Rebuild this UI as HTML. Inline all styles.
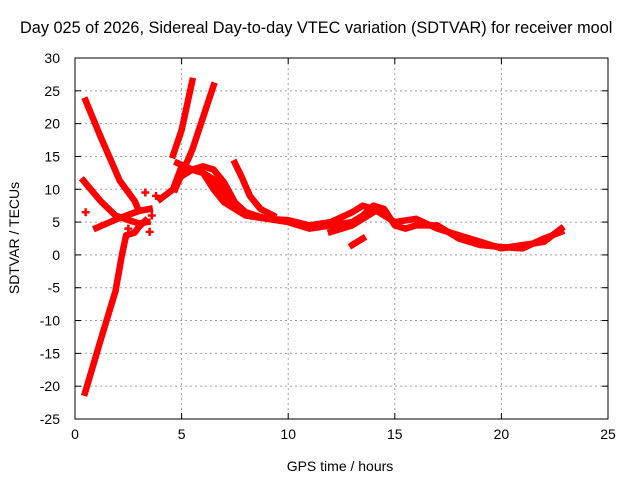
<!DOCTYPE html>
<html><head><meta charset="utf-8"><style>
body{margin:0;background:#fff;overflow:hidden;}
text{font-family:"Liberation Sans",sans-serif;font-size:13px;fill:#000;}
</style></head><body>
<svg id="chart" width="640" height="480" viewBox="0 0 640 480" xmlns="http://www.w3.org/2000/svg">
<rect width="640" height="480" fill="#fff"/>
<text x="20" y="33" style="font-size:16.3px">Day 025 of 2026, Sidereal Day-to-day VTEC variation (SDTVAR) for receiver mool</text>
<g id="grid"></g><g id="axes"></g><g id="series"></g>
<text x="340" y="471" style="font-size:14px" text-anchor="middle">GPS time / hours</text>
<text transform="translate(19,238) rotate(-90)" style="font-size:14px" text-anchor="middle">SDTVAR / TECUs</text>
</svg>
<script>
const xTicks=[0,5,10,15,20,25];
const yTicks=[-25,-20,-15,-10,-5,0,5,10,15,20,25,30];
const trackA=[[0.5,23.5],[1.2,18],[2.1,11.3],[2.8,8.2],[3.0,6.7]];
const trackB=[[0.47,-21],[1.2,-13],[1.9,-5.5],[2.2,0],[2.4,3],[2.8,3.4],[3,4.3],[3.3,5.2]];
const trackC=[[0.4,11.3],[1.2,8.2],[1.9,6],[2.6,5.2],[3.0,4.8],[3.4,5.0]];
const trackC2=[[1.0,4.1],[2.0,5.5],[3.0,6.7],[3.5,7.0]];
const trackD1=[[4.6,15.2],[5.0,19],[5.5,26.5]];
const trackD2=[[4.7,10],[5.5,16],[6.5,25.8]];
const trackE=[[4.0,8.5],[4.6,10],[5.0,13.5],[5.5,13],[6,12.5],[6.5,10],[7,8],[7.5,7],[8,6],[9,5.5],[10,5.3],[11,4.5],[12,5],[13,6.5],[13.5,7.5],[14,7],[14.5,6],[15,5],[16,5.5],[17,4],[18,3],[19,2],[20,1],[21,1.5],[22,2],[22.8,4]];
const trackF=[[5.0,12],[5.5,13],[6,13.5],[6.5,13],[7,11],[7.5,8],[8,6.5],[9,5.5],[10,5],[11,4],[12,4.5],[13,5],[13.5,6],[14,7.5],[14.5,7],[15,4.5],[15.5,4],[16,4.5],[17,4.5],[18,2.5],[19,1.5],[20,1.2],[21,1],[22,2.5],[22.8,3.5]];
const trackG=[[7.5,14],[7.8,12],[8.2,9],[8.7,7],[9.3,6]];
const trackH=[[4.8,14],[5.5,13],[6.0,12.5],[6.5,11.5],[7.0,9.5],[7.5,7.5],[8.2,6]];
const trackI=[[12,3.5],[13,4.5],[14,6.5]];
const trackJ=[[13.0,1.5],[13.5,2.5]];
const dots=[[0.5,6.5],[3.3,9.5],[3.5,3.5],[3.6,6],[3.8,9],[2.5,4]];
const tracks=[trackA,trackB,trackC,trackC2,trackD1,trackD2,trackE,trackF,trackG,trackH,trackI,trackJ];
const X0=75,X1=608,Y0=419,Y1=58;
const xs=v=>X0+(v-0)/(25-0)*(X1-X0);
const ys=v=>Y0-(v+25)/(55)*(Y0-Y1);
const NS="http://www.w3.org/2000/svg";
const grid=document.getElementById('grid'),axes=document.getElementById('axes'),ser=document.getElementById('series');
function mk(tag,attrs,parent){const e=document.createElementNS(NS,tag);for(const k in attrs)e.setAttribute(k,attrs[k]);parent.appendChild(e);return e;}
xTicks.forEach(t=>{const x=xs(t);
 if(t>0&&t<25){const g=mk('line',{x1:x,x2:x,y1:Y1,y2:Y0,stroke:'#a0a0a0','stroke-dasharray':'2,3'},grid);}
 mk('line',{x1:x,x2:x,y1:Y0,y2:Y0-6,stroke:'#000'},axes);mk('line',{x1:x,x2:x,y1:Y1,y2:Y1+6,stroke:'#000'},axes);
 const tx=mk('text',{x:x,y:Y0+20,'text-anchor':'middle',style:'font-size:14px'},axes);tx.textContent=t;
 
 });
yTicks.forEach(t=>{const y=ys(t);
 if(t>-25&&t<30){const g=mk('line',{x1:X0,x2:X1,y1:y,y2:y,stroke:'#a0a0a0','stroke-dasharray':'2,3'},grid);}
 mk('line',{x1:X0,x2:X0+6,y1:y,y2:y,stroke:'#000'},axes);mk('line',{x1:X1,x2:X1-6,y1:y,y2:y,stroke:'#000'},axes);
 const tx=mk('text',{x:X0-15,y:y+5,'text-anchor':'end',style:'font-size:14px'},axes);tx.textContent=t;
 
 });
const fr=mk('rect',{x:X0,y:Y1,width:X1-X0,height:Y0-Y1,fill:'none',stroke:'#000'},axes);


tracks.forEach(tr=>{const p=mk('polyline',{points:tr.map(d=>xs(d[0])+','+ys(d[1])).join(' '),fill:'none',stroke:'#f00','stroke-width':6.5,'stroke-linejoin':'round','stroke-linecap':'square'},ser);
 
 });
dots.forEach(d=>{const x=xs(d[0]),y=ys(d[1]);const p=mk('path',{d:`M${x-4},${y}H${x+4}M${x},${y-4}V${y+4}`,stroke:'#f00','stroke-width':2.5},ser);
 
 });
</script>
</body></html>
